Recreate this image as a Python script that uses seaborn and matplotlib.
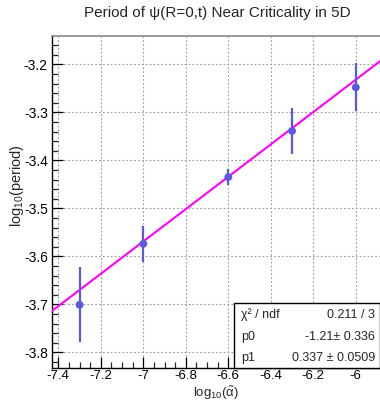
import numpy as np
import pandas as pd
import matplotlib
matplotlib.use("Agg")
import matplotlib.pyplot as plt
from matplotlib.ticker import MultipleLocator, FormatStrFormatter
import seaborn as sns

# Measured periods near criticality (log10 scale)
log_alpha = [-7.3, -7.0, -6.6, -6.3, -6.0]
log_period = [-3.701, -3.574, -3.435, -3.339, -3.248]
period_err = [0.078, 0.038, 0.017, 0.048, 0.050]

# Linear fit results: y = p0 + p1 * x
p0, p0_err = -1.21, 0.336
p1, p1_err = 0.337, 0.0509
chi2, ndf = 0.211, 3

sns.set_style("white")
plt.rcParams["font.family"] = ["Liberation Sans", "DejaVu Sans"]
plt.rcParams["mathtext.fontset"] = "custom"
plt.rcParams["mathtext.rm"] = "Liberation Sans"
plt.rcParams["mathtext.it"] = "Liberation Sans"

fig = plt.figure(figsize=(3.80, 4.03), dpi=100)
ax = fig.add_axes([52 / 380, 35 / 403, 1 - 52 / 380, 332 / 403])

xmin, xmax = -7.4297, -5.886
ymin, ymax = -3.8327, -3.141
ax.set_xlim(xmin, xmax)
ax.set_ylim(ymin, ymax)

# fitted line across the frame
fit = pd.DataFrame({"x": np.array([xmin, xmax])})
fit["y"] = p0 + p1 * fit["x"]
sns.lineplot(data=fit, x="x", y="y", color="#ff00ff", linewidth=1.5, ax=ax, zorder=3)

pts = pd.DataFrame({"x": log_alpha, "y": log_period, "e": period_err})
ax.errorbar(pts["x"], pts["y"], yerr=pts["e"], fmt="none", ecolor="#5a5ae0",
            elinewidth=1.6, capsize=0, zorder=4)
sns.scatterplot(data=pts, x="x", y="y", color="#5a5ae0", s=32, edgecolor="none",
                ax=ax, zorder=5, legend=False)

# axes, ticks and grid
ax.xaxis.set_major_locator(MultipleLocator(0.2))
ax.xaxis.set_minor_locator(MultipleLocator(0.05))
ax.yaxis.set_major_locator(MultipleLocator(0.1))
ax.yaxis.set_minor_locator(MultipleLocator(0.02))
ax.xaxis.set_major_formatter(FormatStrFormatter("%g"))
ax.yaxis.set_major_formatter(FormatStrFormatter("%g"))
ax.tick_params(which="major", direction="in", length=8, width=0.9, labelsize=10,
               colors="black", pad=3, left=True, bottom=True)
ax.tick_params(axis="x", which="major", pad=1.5, labelsize=9.5)
ax.tick_params(which="minor", direction="in", length=4, width=0.9,
               left=True, bottom=True)
ax.grid(True, which="major", color="#9a9a9a", linestyle=(0, (1.5, 2.0)), linewidth=0.8)
for side in ("left", "bottom"):
    ax.spines[side].set_color("black")
    ax.spines[side].set_linewidth(1.0)
ax.spines["top"].set_color("#888888")
ax.spines["top"].set_linewidth(1.2)
ax.spines["right"].set_visible(False)

ax.set_xlabel(r"log$_{10}$($\tilde{\alpha}$)", fontsize=9.5)
ax.set_ylabel(r"log$_{10}$(period)", fontsize=10.5)
ax.xaxis.set_label_coords(0.5, -0.05)
ax.yaxis.set_label_coords(-0.08, 0.55)

fig.text(217 / 380, 1 - 13 / 403, "Period of ψ(R=0,t) Near Criticality in 5D",
         ha="center", va="center", fontsize=11)

# fit statistics box
bx0, by0 = 233.5 / 380, 35 / 403
bw, bh = 1 - bx0, (368 - 302.7) / 403
fig.patches.append(plt.Rectangle((bx0, by0), bw, bh, transform=fig.transFigure,
                                 facecolor="white", edgecolor="black", linewidth=1.0,
                                 zorder=10))
rows = [
    ("χ² / ndf", f"{chi2:g} / {ndf}"),
    ("p0", f"{p0:g}± {p0_err:g}"),
    ("p1", f"{p1:g} ± {p1_err:g}"),
]
for (lab, val), ypx in zip(rows, [315, 337, 358]):
    fig.text(241 / 380, 1 - ypx / 403, lab, ha="left", va="center", fontsize=9, zorder=11)
    fig.text(375 / 380, 1 - ypx / 403, val, ha="right", va="center", fontsize=9, zorder=11)

fig.savefig("out.png", dpi=100)
